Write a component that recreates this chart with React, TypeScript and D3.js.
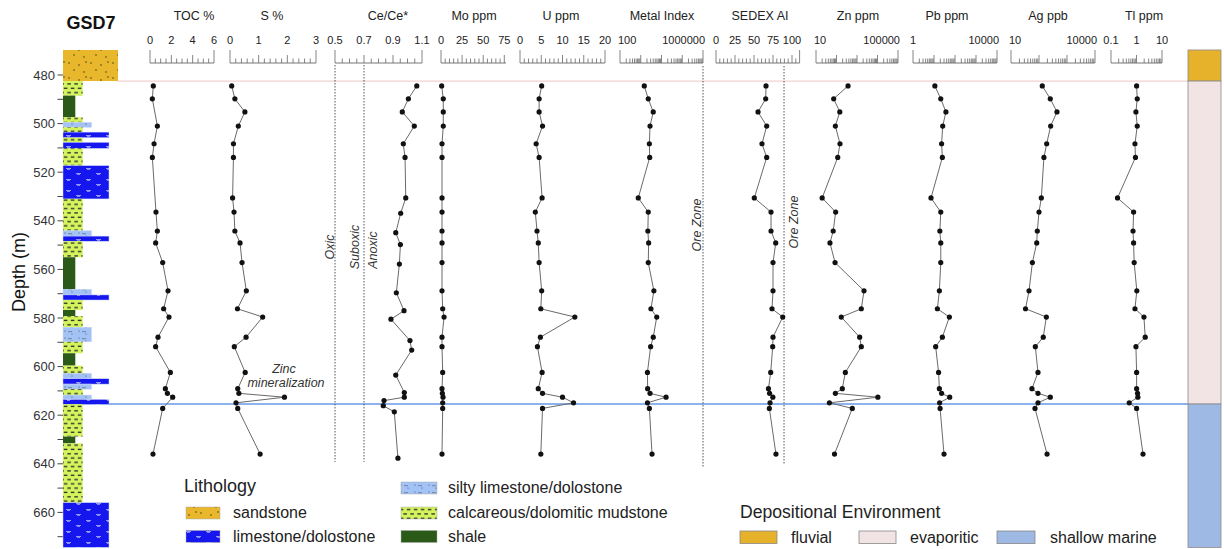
import React from 'react';
import * as d3 from 'd3';

// ---------------- DATA ----------------
const depths = [484.5, 489.8, 495.2, 501.0, 508.3, 513.9, 530.6, 536.4, 544.2, 549.1, 557.2, 568.8, 576.2, 579.6, 587.9, 591.8, 602.4, 609.1, 611.0, 612.6, 614.9, 617.2, 636.0];
const ceDepths = [484.5, 489.8, 495.2, 501.0, 508.3, 513.9, 530.6, 536.9, 544.9, 549.8, 557.8, 569.6, 577.0, 580.5, 589.3, 593.2, 603.5, 610.7, 612.6, 614.0, 616.1, 618.6, 637.7];

const tocValues = [0.31, 0.22, null, 0.69, 0.38, 0.22, null, 0.56, 0.69, 0.53, 1.19, 1.69, 1.28, 1.78, 0.75, 0.53, 1.91, 1.44, 1.63, 2.13, null, 1.19, 0.28];
const sValues = [0.06, 0.17, 0.52, 0.29, 0.12, 0.12, 0.09, 0.14, 0.17, 0.35, 0.42, 0.57, 0.26, 1.14, 0.56, 0.15, 0.53, 0.27, 0.31, 1.9, 0.21, 0.27, 1.05];
const ceValues = [1.064, 1.006, 0.964, 1.047, 0.971, 0.983, 0.988, 0.953, 0.919, 0.951, 0.944, 0.923, 0.976, 0.886, 1.017, 1.029, 0.919, 0.978, 0.978, 0.838, 0.833, 0.909, 0.934];
const moValues = [0.8, 2.7, 2.7, 2.7, 1.2, 1.2, 1.2, 1.2, 1.2, 1.2, 1.2, 1.2, 2.0, 3.6, 1.2, 1.2, 2.0, 1.2, 1.6, 2.4, 2.0, 2.0, 1.2];
const uValues = [5.1, 4.5, 4.5, 5.3, 3.8, 4.5, 5.2, 3.6, 4.0, 4.3, 4.5, 5.1, 4.9, 12.9, 4.8, 4.1, 5.2, 4.3, 5.3, 10.0, 12.6, 5.3, 4.9];
const metalValues = [1480, 2300, 4000, 2800, 2600, 2700, 760, 2300, 2200, 2400, 2300, 4300, 3100, 5900, 4000, 3000, 2100, 2150, 2800, 16600, 2100, 2600, 3500];
const sedexValues = [65.8, 65.4, 55.3, 66.7, 60.5, 66.7, 50.4, 72.4, 72.4, 78.6, 75, 75, 73.7, 87.8, 75, 74.6, 72, 69, 70.5, 74.8, 71.1, 70.2, 78.9];
const znValues = [365, 73, 145, 88, 148, 115, 20, 91, 69, 48, 85, 2200, 1620, 171, 1350, 1620, 270, 192, 88, 10400, 45, 590, 80];
const pbValues = [11, 21, 37, 26, 23, 25, 7.2, 21, 19, 21, 21, 18, 14.5, 54, 25, 12, 16.5, 18, 23, 56, 18.5, 19.5, 30];
const agValues = [131, 253, 439, 261, 188, 150, 121, 100, 87, 83, 58, 44, 33, 183, 142, 74, 92, 56, 92, 253, 92, 72, 194];
const tlValues = [1.01, 1.07, 0.95, 1.07, 0.87, 0.91, 0.18, 0.77, 0.73, 0.77, 0.81, 1.03, 0.87, 1.96, 2.2, 0.95, 1.01, 1.01, 1.1, 1.13, 0.52, 1.01, 1.8];

const lithTop = [469.7, 482.5, 488.5, 497.4, 499.5, 501.5, 503.5, 505.8, 507.7, 510.2, 517.3, 531.0, 544.1, 546.3, 548.4, 555.0, 568.2, 570.5, 572.6, 576.7, 579.2, 583.8, 589.8, 594.5, 599.6, 602.8, 605.0, 607.2, 609.3, 611.7, 613.5, 615.5, 628.8, 631.6, 656.0];
const lithBase = [482.5, 488.5, 497.4, 499.5, 501.5, 503.5, 505.8, 507.7, 510.2, 517.3, 531.0, 544.1, 546.3, 548.4, 555.0, 568.2, 570.5, 572.6, 576.7, 579.2, 583.8, 589.8, 594.5, 599.6, 602.8, 605.0, 607.2, 609.3, 611.7, 613.5, 615.5, 628.8, 631.6, 656.0, 674.4];
const lithType = ['sandstone', 'mudstone', 'shale', 'mudstone', 'silty', 'mudstone', 'limestone', 'mudstone', 'limestone', 'mudstone', 'limestone', 'mudstone', 'silty', 'limestone', 'mudstone', 'shale', 'silty', 'limestone', 'mudstone', 'shale', 'mudstone', 'silty', 'mudstone', 'shale', 'mudstone', 'silty', 'limestone', 'silty', 'mudstone', 'silty', 'limestone', 'mudstone', 'shale', 'mudstone', 'limestone'];

const envNames = ['fluvial', 'evaporitic', 'shallow marine'];
const envTop = [469.7, 482.5, 615.4];
const envBase = [482.5, 615.4, 674.4];

const depthTickValues = d3.range(480, 671, 10);
const depthLabelValues = d3.range(480, 661, 20);

const ceThresholds = [0.5, 0.7];
const metalOreZone = 1e6;
const sedexOreZone = 89.5;

// ---------------- LAYOUT ----------------
const W = 1224;
const H = 549;
const FONT = '"Liberation Sans", Arial, Helvetica, sans-serif';
const yScale = d3.scaleLinear().domain([480, 660]).range([75, 512.4]);
const RULER_Y = 63;
const COL_X = 63;

const lithStyle: Record<string, { fill: string; right: number }> = {
  sandstone: { fill: 'url(#pSand)', right: 118 },
  limestone: { fill: 'url(#pLime)', right: 109 },
  silty: { fill: 'url(#pSilty)', right: 91.5 },
  mudstone: { fill: 'url(#pMud)', right: 82.7 },
  shale: { fill: '#2B5A18', right: 75.3 },
};
const envColor: Record<string, string> = {
  fluvial: '#E6B22C',
  evaporitic: '#F2E4E4',
  'shallow marine': '#9DB9E4',
};

type Panel = {
  key: string;
  title: string;
  titleX: number;
  kind: 'lin' | 'log';
  domain: [number, number];
  range: [number, number];
  values: (number | null)[];
  depths?: number[];
  minor?: number;
  labels: number[];
  anchors?: string[];
  fmt?: (v: number) => string;
};

const panels: Panel[] = [
  { key: 'toc', title: 'TOC %', titleX: 194, kind: 'lin', domain: [0, 6], range: [150, 214], values: tocValues, minor: 0.5, labels: [0, 2, 4, 6] },
  { key: 's', title: 'S %', titleX: 272, kind: 'lin', domain: [0, 3], range: [230, 316], values: sValues, minor: 0.2, labels: [0, 1, 2, 3] },
  { key: 'ce', title: 'Ce/Ce*', titleX: 388, kind: 'lin', domain: [0.5, 1.1], range: [335, 422], values: ceValues, depths: ceDepths, minor: 0.05, labels: [0.5, 0.7, 0.9, 1.1], fmt: (v) => v.toFixed(1) },
  { key: 'mo', title: 'Mo ppm', titleX: 474, kind: 'lin', domain: [0, 77], range: [441, 506], values: moValues, minor: 5, labels: [0, 25, 50, 75] },
  { key: 'u', title: 'U ppm', titleX: 561, kind: 'lin', domain: [0, 20], range: [520, 605], values: uValues, minor: 1, labels: [0, 5, 10, 15, 20] },
  { key: 'metal', title: 'Metal Index', titleX: 662, kind: 'log', domain: [100, 1e6], range: [620, 703], values: metalValues, labels: [100, 1e6], anchors: ['start', 'end'] },
  { key: 'sedex', title: 'SEDEX AI', titleX: 760, kind: 'lin', domain: [0, 110], range: [716, 799.6], values: sedexValues, minor: 5, labels: [0, 25, 50, 75, 100] },
  { key: 'zn', title: 'Zn ppm', titleX: 858, kind: 'log', domain: [10, 1e5], range: [816, 898], values: znValues, labels: [10, 1e5], anchors: ['start', 'end'] },
  { key: 'pb', title: 'Pb ppm', titleX: 947, kind: 'log', domain: [1, 1e4], range: [913, 997], values: pbValues, labels: [1, 1e4], anchors: ['middle', 'end'] },
  { key: 'ag', title: 'Ag ppb', titleX: 1048, kind: 'log', domain: [10, 1e4], range: [1011, 1095], values: agValues, labels: [10, 1e4], anchors: ['start', 'end'] },
  { key: 'tl', title: 'Tl ppm', titleX: 1144, kind: 'log', domain: [0.1, 10], range: [1111, 1162], values: tlValues, labels: [0.1, 1, 10] },
];

function makeScale(p: Panel) {
  return p.kind === 'log'
    ? d3.scaleLog().domain(p.domain).range(p.range)
    : d3.scaleLinear().domain(p.domain).range(p.range);
}

function rulerTicks(p: Panel) {
  const t: { v: number; major: boolean }[] = [];
  if (p.kind === 'lin') {
    const n = Math.round((p.domain[1] - p.domain[0]) / (p.minor as number));
    for (let k = 0; k <= n; k++) {
      const v = p.domain[0] + k * (p.minor as number);
      t.push({ v, major: p.labels.some((l) => Math.abs(l - v) < 1e-9) });
    }
  } else {
    const lo = Math.round(Math.log10(p.domain[0]));
    const hi = Math.round(Math.log10(p.domain[1]));
    for (let e = lo; e < hi; e++) {
      for (let m = 1; m < 10; m++) t.push({ v: m * Math.pow(10, e), major: m === 1 });
    }
    t.push({ v: p.domain[1], major: true });
  }
  return t;
}

const PanelView = ({ p }: { p: Panel }) => {
  const x = makeScale(p);
  const ds = p.depths || depths;
  const pts = p.values
    .map((v, j) => [v, ds[j]] as [number | null, number])
    .filter((d) => d[0] !== null) as [number, number][];
  const line = d3
    .line<[number, number]>()
    .x((d) => x(d[0]))
    .y((d) => yScale(d[1]));
  const ticks = rulerTicks(p);
  const [r0, r1] = p.range;
  return (
    <g>
      <text x={p.titleX} y={20} textAnchor="middle" fontSize={12.5} fill="#222">{p.title}</text>
      {p.labels.map((l, i) => {
        const anchor = p.anchors ? p.anchors[i] : 'middle';
        let lx = x(l);
        if (anchor === 'start') lx -= 2;
        if (anchor === 'end') lx += 2;
        return (
          <text key={i} x={lx} y={44} textAnchor={anchor} fontSize={11} fill="#222">
            {p.fmt ? p.fmt(l) : String(l)}
          </text>
        );
      })}
      <line x1={r0} x2={r1} y1={RULER_Y} y2={RULER_Y} stroke="#666" strokeWidth={0.9} />
      {ticks.map((t, i) => {
        const tx = x(t.v);
        const isEnd = Math.abs(tx - r0) < 0.5 || Math.abs(tx - r1) < 0.5;
        const h = isEnd ? 13 : t.major ? 8 : 4.5;
        return <line key={i} x1={tx} x2={tx} y1={RULER_Y - h} y2={RULER_Y} stroke="#666" strokeWidth={0.8} />;
      })}
      <path d={line(pts) || ''} fill="none" stroke="#6a6a6a" strokeWidth={1} />
      {pts.map((d, i) => (
        <circle key={i} cx={x(d[0])} cy={yScale(d[1])} r={2.6} fill="#111" />
      ))}
    </g>
  );
};

const scaleByKey = (k: string) => makeScale(panels.find((p) => p.key === k) as Panel);

export default function App() {
  const ceX = scaleByKey('ce');
  const metalX = scaleByKey('metal');
  const sedexX = scaleByKey('sedex');
  const pinkY = yScale(envBase[0]);
  const blueY = yScale(envBase[1]);

  const legendLith = [
    { t: 'sandstone', label: 'sandstone', x: 186, w: 34, tx: 233, y: 507 },
    { t: 'limestone', label: 'limestone/dolostone', x: 186, w: 34, tx: 233, y: 530.5 },
    { t: 'silty', label: 'silty limestone/dolostone', x: 401, w: 36, tx: 448, y: 482 },
    { t: 'mudstone', label: 'calcareous/dolomitic mudstone', x: 401, w: 36, tx: 448, y: 507 },
    { t: 'shale', label: 'shale', x: 401, w: 36, tx: 448, y: 530.5 },
  ];
  const legendEnv = [
    { x: 740, lx: 791 },
    { x: 859, lx: 910 },
    { x: 997, lx: 1050 },
  ];

  return (
    <svg width={W} height={H} style={{ position: 'absolute', left: 0, top: 0, background: '#fff' }} fontFamily={FONT}>
      <defs>
        <pattern id="pSand" patternUnits="userSpaceOnUse" width="22" height="15">
          <rect width="22" height="15" fill="#E8B72C" />
          <circle cx="3" cy="3" r="0.75" fill="#3a3a1a" />
          <circle cx="13" cy="5" r="0.75" fill="#3a3a1a" />
          <circle cx="8" cy="10" r="0.75" fill="#3a3a1a" />
          <circle cx="18" cy="12" r="0.75" fill="#3a3a1a" />
          <circle cx="20" cy="2" r="0.75" fill="#3a3a1a" />
        </pattern>
        <pattern id="pMud" patternUnits="userSpaceOnUse" width="7" height="8.6" x={COL_X}>
          <rect width="7" height="8.6" fill="#D3F45C" />
          <rect x="0.8" y="1.6" width="3.6" height="1.3" fill="#2a2a2a" />
          <rect x="4.3" y="5.9" width="3.6" height="1.3" fill="#2a2a2a" />
          <rect x="-2.7" y="5.9" width="3.6" height="1.3" fill="#2a2a2a" />
        </pattern>
        <pattern id="pLime" patternUnits="userSpaceOnUse" width="20" height="11" x={COL_X}>
          <rect width="20" height="11" fill="#1616EE" />
          <rect x="3" y="3" width="5" height="0.7" fill="#c8d0ff" />
          <rect x="4" y="4.3" width="3" height="0.6" fill="#c8d0ff" />
          <rect x="13" y="8" width="5" height="0.7" fill="#c8d0ff" />
          <rect x="14" y="9.3" width="3" height="0.6" fill="#c8d0ff" />
        </pattern>
        <pattern id="pSilty" patternUnits="userSpaceOnUse" width="14" height="7" x={COL_X}>
          <rect width="14" height="7" fill="#A3C3F6" />
          <circle cx="2" cy="2" r="0.55" fill="#445" />
          <circle cx="9" cy="5" r="0.55" fill="#445" />
          <rect x="5" y="2.5" width="4" height="0.6" fill="#556" />
        </pattern>
      </defs>

      {/* header */}
      <text x={91} y={29} textAnchor="middle" fontSize={18} fontWeight="bold" fill="#111">GSD7</text>

      {/* horizontal boundary lines */}
      <line x1={118} x2={1188} y1={pinkY} y2={pinkY} stroke="#F0D2D2" strokeWidth={1.2} />
      <line x1={COL_X} x2={1188} y1={blueY} y2={blueY} stroke="#8CB3EE" strokeWidth={1.8} />

      {/* depth axis */}
      {depthTickValues.map((d) => (
        <line key={d} x1={COL_X - 5.5} x2={COL_X} y1={yScale(d)} y2={yScale(d)} stroke="#444" strokeWidth={1} />
      ))}
      {depthLabelValues.map((d) => (
        <text key={d} x={COL_X - 8} y={yScale(d) + 4.5} textAnchor="end" fontSize={13} fill="#333">{d}</text>
      ))}
      <text transform={`translate(25,272) rotate(-90)`} textAnchor="middle" fontSize={18} fill="#111">Depth (m)</text>

      {/* lithology column */}
      {lithType.map((t, i) => (
        <rect
          key={i}
          x={COL_X}
          y={yScale(lithTop[i])}
          width={lithStyle[t].right - COL_X}
          height={yScale(lithBase[i]) - yScale(lithTop[i])}
          fill={lithStyle[t].fill}
          stroke={t === 'limestone' || t === 'silty' ? '#c9d6f7' : 'none'}
          strokeWidth={0.5}
        />
      ))}

      {/* environment column */}
      {envNames.map((n, i) => (
        <rect
          key={n}
          x={1188}
          y={yScale(envTop[i])}
          width={33}
          height={yScale(envBase[i]) - yScale(envTop[i])}
          fill={envColor[n]}
          stroke="#8a8a8a"
          strokeWidth={0.8}
        />
      ))}

      {/* threshold lines */}
      {ceThresholds.map((v) => (
        <line key={v} x1={ceX(v)} x2={ceX(v)} y1={65} y2={462} stroke="#555" strokeWidth={1} strokeDasharray="1.5,1.5" />
      ))}
      <line x1={metalX(metalOreZone)} x2={metalX(metalOreZone)} y1={66} y2={468} stroke="#555" strokeWidth={1} strokeDasharray="1.5,1.5" />
      <line x1={sedexX(sedexOreZone)} x2={sedexX(sedexOreZone)} y1={66} y2={465} stroke="#555" strokeWidth={1} strokeDasharray="1.5,1.5" />

      <g fontStyle="italic" fontSize={12.5} fill="#333">
        <text transform="translate(333.5,247) rotate(-90)" textAnchor="middle">Oxic</text>
        <text transform="translate(359,247) rotate(-90)" textAnchor="middle">Suboxic</text>
        <text transform="translate(376.5,250) rotate(-90)" textAnchor="middle">Anoxic</text>
        <text transform="translate(701,225) rotate(-90)" textAnchor="middle">Ore Zone</text>
        <text transform="translate(797.5,222) rotate(-90)" textAnchor="middle">Ore Zone</text>
        <text x={284} y={373} textAnchor="middle">Zinc</text>
        <text x={286} y={387} textAnchor="middle">mineralization</text>
      </g>

      {panels.map((p) => (
        <PanelView key={p.key} p={p} />
      ))}

      {/* legend */}
      <text x={184} y={492} fontSize={18} fill="#222">Lithology</text>
      {legendLith.map((l) => (
        <g key={l.t}>
          <rect x={l.x} y={l.y} width={l.w} height={12} fill={lithStyle[l.t].fill} stroke="#aaa" strokeWidth={0.5} />
          <text x={l.tx} y={l.y + 11} fontSize={16} fill="#222">{l.label}</text>
        </g>
      ))}
      <text x={740} y={518} fontSize={17.6} fill="#222">Depositional Environment</text>
      {envNames.map((n, i) => (
        <g key={n}>
          <rect x={legendEnv[i].x} y={531} width={legendEnv[i].x === 997 ? 38 : 37} height={12.5} fill={envColor[n]} stroke="#888" strokeWidth={0.8} />
          <text x={legendEnv[i].lx} y={543} fontSize={16} fill="#222">{n}</text>
        </g>
      ))}
    </svg>
  );
}
